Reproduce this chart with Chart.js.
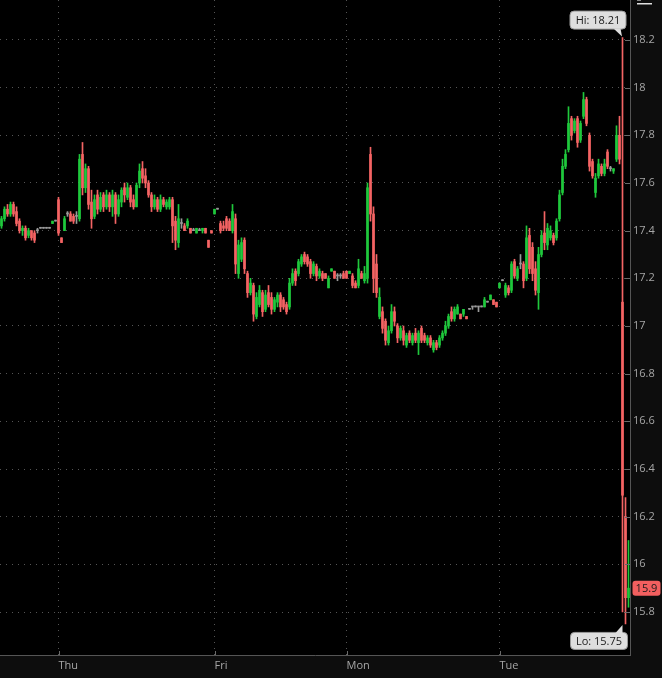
<!DOCTYPE html>
<html>
<head>
<meta charset="utf-8">
<script src="https://cdn.jsdelivr.net/npm/chart.js@4.4.1/dist/chart.umd.min.js"></script>
<style>
html,body{margin:0;padding:0;background:#0d0d0d;overflow:hidden;}
canvas{display:block;}
</style>
</head>
<body>
<canvas id="c" width="662" height="678"></canvas>
<script>
// ---- Data ----
const opens = [17.42,17.45,17.49,17.47,17.51,17.48,17.44,17.40,17.41,17.38,
17.40,17.39,17.40,17.41,17.41,17.41,17.41,17.43,17.44,17.53,
17.37,17.40,17.47,17.47,17.46,17.46,17.45,17.72,17.58,17.66,
17.52,17.46,17.55,17.49,17.55,17.50,17.55,17.50,17.55,17.47,
17.52,17.58,17.54,17.58,17.53,17.50,17.60,17.66,17.63,17.60,
17.55,17.50,17.53,17.49,17.53,17.50,17.50,17.53,17.44,17.35,
17.43,17.42,17.42,17.41,17.40,17.39,17.40,17.40,17.41,17.36,
17.40,17.47,17.49,17.43,17.42,17.45,17.44,17.40,17.45,17.22,
17.28,17.36,17.22,17.14,17.17,17.04,17.09,17.14,17.07,17.14,
17.12,17.07,17.10,17.13,17.11,17.09,17.08,17.18,17.23,17.22,
17.26,17.30,17.29,17.27,17.22,17.25,17.21,17.22,17.22,17.16,
17.23,17.23,17.21,17.21,17.22,17.23,17.22,17.21,17.18,17.17,
17.22,17.19,17.20,17.72,17.47,17.26,17.04,17.06,17.02,16.93,
16.98,17.06,17.00,16.95,16.98,16.92,16.97,16.93,16.97,16.93,
16.99,16.96,16.93,16.95,16.90,16.93,16.92,16.95,16.97,17.00,
17.06,17.03,17.05,17.05,17.05,17.04,17.07,17.08,17.08,17.08,
17.08,17.08,17.10,17.11,17.11,17.10,17.16,17.19,17.13,17.16,
17.15,17.27,17.20,17.26,17.26,17.20,17.38,17.33,17.24,17.14,
17.30,17.39,17.34,17.37,17.38,17.37,17.45,17.56,17.67,17.74,
17.87,17.82,17.87,17.78,17.88,17.95,17.80,17.69,17.56,17.63,
17.67,17.64,17.73,17.66,17.65,17.70,17.80,17.10,16.20,15.86];
const highs = [17.46,17.50,17.51,17.52,17.52,17.50,17.45,17.42,17.42,17.41,
17.40,17.40,17.41,17.41,17.41,17.41,17.41,17.44,17.44,17.54,
17.37,17.46,17.48,17.48,17.47,17.48,17.72,17.77,17.68,17.67,
17.57,17.55,17.57,17.56,17.56,17.57,17.56,17.57,17.56,17.55,
17.58,17.60,17.60,17.59,17.55,17.60,17.68,17.69,17.66,17.61,
17.56,17.55,17.54,17.55,17.54,17.53,17.54,17.54,17.46,17.51,
17.45,17.43,17.45,17.41,17.41,17.41,17.41,17.41,17.41,17.36,
17.40,17.49,17.49,17.44,17.44,17.46,17.45,17.51,17.47,17.36,
17.37,17.37,17.23,17.20,17.18,17.14,17.17,17.15,17.15,17.17,
17.14,17.12,17.14,17.14,17.12,17.10,17.20,17.24,17.24,17.28,
17.30,17.31,17.30,17.28,17.27,17.26,17.24,17.23,17.22,17.21,
17.24,17.23,17.22,17.22,17.23,17.23,17.23,17.22,17.19,17.28,
17.23,17.25,17.60,17.75,17.50,17.30,17.16,17.08,17.03,17.00,
17.09,17.08,17.01,17.00,17.00,16.97,16.98,16.97,16.99,16.98,
17.00,16.97,16.96,16.96,16.94,16.94,16.96,16.98,17.02,17.05,
17.08,17.08,17.09,17.05,17.07,17.04,17.07,17.08,17.08,17.08,
17.08,17.12,17.10,17.13,17.11,17.10,17.18,17.19,17.18,17.17,
17.27,17.28,17.25,17.30,17.27,17.42,17.41,17.35,17.27,17.33,
17.40,17.48,17.43,17.42,17.39,17.45,17.57,17.70,17.74,17.92,
17.88,17.87,17.88,17.86,17.98,17.96,17.81,17.70,17.64,17.70,
17.68,17.70,17.74,17.67,17.66,17.84,17.88,18.21,16.28,16.10];
const lows = [17.41,17.44,17.46,17.46,17.46,17.42,17.39,17.38,17.36,17.37,
17.36,17.35,17.39,17.41,17.41,17.41,17.41,17.43,17.44,17.38,
17.35,17.40,17.46,17.44,17.43,17.43,17.44,17.55,17.56,17.49,
17.41,17.45,17.47,17.48,17.48,17.49,17.48,17.46,17.43,17.46,
17.50,17.52,17.53,17.50,17.49,17.50,17.58,17.60,17.58,17.54,
17.48,17.49,17.48,17.48,17.50,17.49,17.49,17.35,17.32,17.33,
17.41,17.40,17.41,17.39,17.40,17.39,17.40,17.39,17.39,17.33,
17.39,17.47,17.49,17.39,17.40,17.40,17.40,17.39,17.22,17.20,
17.27,17.22,17.12,17.13,17.02,17.03,17.08,17.04,17.06,17.08,
17.05,17.06,17.08,17.06,17.07,17.05,17.07,17.17,17.17,17.21,
17.25,17.26,17.25,17.20,17.21,17.19,17.20,17.19,17.20,17.16,
17.23,17.20,17.19,17.20,17.20,17.20,17.22,17.16,17.16,17.16,
17.20,17.18,17.18,17.44,17.14,17.12,17.03,16.97,16.92,16.92,
16.97,17.00,16.93,16.94,16.92,16.91,16.93,16.92,16.93,16.88,
16.93,16.93,16.92,16.91,16.89,16.90,16.91,16.94,16.96,16.99,
17.02,17.02,17.05,17.03,17.04,17.03,17.07,17.07,17.08,17.06,
17.08,17.08,17.10,17.11,17.09,17.08,17.16,17.19,17.12,17.13,
17.14,17.20,17.19,17.24,17.16,17.19,17.22,17.19,17.13,17.07,
17.29,17.32,17.32,17.36,17.34,17.36,17.44,17.55,17.66,17.73,
17.78,17.81,17.75,17.77,17.87,17.84,17.65,17.62,17.54,17.62,
17.63,17.63,17.66,17.65,17.64,17.69,17.68,15.80,15.75,15.82];
const closes = [17.45,17.49,17.47,17.51,17.47,17.43,17.40,17.41,17.37,17.40,
17.37,17.36,17.40,17.41,17.41,17.41,17.41,17.44,17.44,17.39,
17.35,17.45,17.47,17.44,17.44,17.46,17.70,17.58,17.66,17.51,
17.45,17.53,17.49,17.54,17.50,17.55,17.50,17.55,17.47,17.53,
17.57,17.55,17.58,17.52,17.50,17.59,17.65,17.62,17.60,17.55,
17.50,17.53,17.49,17.53,17.51,17.52,17.53,17.42,17.36,17.45,
17.43,17.40,17.44,17.39,17.40,17.41,17.40,17.41,17.39,17.33,
17.39,17.49,17.49,17.40,17.41,17.41,17.40,17.48,17.26,17.34,
17.35,17.24,17.14,17.18,17.05,17.12,17.15,17.06,17.13,17.09,
17.07,17.11,17.13,17.08,17.08,17.06,17.18,17.22,17.19,17.27,
17.29,17.27,17.26,17.22,17.26,17.21,17.23,17.20,17.20,17.20,
17.24,17.20,17.21,17.21,17.20,17.20,17.23,17.17,17.16,17.24,
17.20,17.22,17.58,17.47,17.20,17.14,17.12,16.99,16.94,16.98,
17.06,17.02,16.95,16.99,16.94,16.96,16.94,16.96,16.94,16.97,
16.94,16.94,16.95,16.92,16.93,16.91,16.95,16.97,17.00,17.04,
17.03,17.07,17.08,17.03,17.07,17.03,17.07,17.08,17.08,17.08,
17.08,17.11,17.10,17.13,17.09,17.08,17.18,17.19,17.17,17.14,
17.26,17.21,17.24,17.26,17.19,17.37,17.24,17.22,17.15,17.30,
17.38,17.35,17.41,17.40,17.35,17.44,17.55,17.67,17.72,17.85,
17.80,17.86,17.77,17.85,17.95,17.85,17.67,17.63,17.62,17.68,
17.64,17.68,17.67,17.66,17.66,17.80,17.70,16.29,15.86,15.90];
const dayIndex = [19, 71, 115, 166];
const dayNames = ['Thu', 'Fri', 'Mon', 'Tue'];
const yTicks = [15.8, 16, 16.2, 16.4, 16.6, 16.8, 17, 17.2, 17.4, 17.6, 17.8, 18, 18.2];

// ---- Derived structures ----
const xLabels = opens.map(() => '');
dayIndex.forEach((d, k) => { xLabels[d] = dayNames[k]; });
const UP = '#1fc83c', DOWN = '#f46464', FLAT = '#9a9a9a';
const colors = opens.map((o, i) => closes[i] > o ? UP : (closes[i] < o ? DOWN : FLAT));
const bodies = opens.map((o, i) => [o, closes[i]]);
const wicks = lows.map((l, i) => [l, highs[i]]);
const FONT = '"Open Sans", "Liberation Sans", sans-serif';

const yMin = 15.6196, yMax = 18.3678;

const overlay = {
  id: 'overlay',
  beforeDraw(chart) {
    const {ctx, chartArea: a} = chart;
    ctx.save();
    ctx.fillStyle = '#0d0d0d';
    ctx.fillRect(0, 0, chart.width, chart.height);
    ctx.fillStyle = '#000000';
    ctx.fillRect(a.left, a.top, a.right - a.left, a.bottom - a.top);
    ctx.restore();
  },
  afterDraw(chart) {
    const {ctx, chartArea: a, scales: {x, y}} = chart;
    ctx.save();
    // small inner tick marks
    ctx.strokeStyle = '#6a6a6a';
    ctx.lineWidth = 1;
    yTicks.forEach(v => {
      const py = Math.round(y.getPixelForValue(v)) + 0.5;
      ctx.beginPath(); ctx.moveTo(a.right - 5, py); ctx.lineTo(a.right, py); ctx.stroke();
    });
    dayIndex.forEach(d => {
      const px = Math.round(x.getPixelForValue(d)) + 0.5;
      ctx.beginPath(); ctx.moveTo(px, a.bottom - 4); ctx.lineTo(px, a.bottom); ctx.stroke();
    });
    // top-right icon
    ctx.fillStyle = '#e0e0e0';
    ctx.fillRect(637, 3, 15, 1.5);
    ctx.fillStyle = '#888';
    ctx.fillRect(637, 0, 4, 1);

    ctx.font = '11px ' + FONT;
    ctx.textBaseline = 'middle';
    ctx.textAlign = 'center';
    // Hi callout
    let hiIdx = 0; highs.forEach((h, i) => { if (h > highs[hiIdx]) hiIdx = i; });
    let loIdx = 0; lows.forEach((l, i) => { if (l < lows[loIdx]) loIdx = i; });
    const hx = x.getPixelForValue(hiIdx), hy = y.getPixelForValue(highs[hiIdx]);
    const hR = hx + 3.5, hW = 56, hB = hy - 8.5, hT = hB - 18;
    ctx.fillStyle = '#dedede'; ctx.strokeStyle = '#9a9a9a';
    ctx.beginPath();
    ctx.roundRect(hR - hW, hT, hW, hB - hT, 4);
    ctx.fill(); ctx.stroke();
    ctx.beginPath();
    ctx.moveTo(hx - 9, hB - 0.5); ctx.lineTo(hx - 2, hB - 0.5); ctx.lineTo(hx - 0.5, hy - 1); ctx.closePath();
    ctx.fill();
    ctx.fillStyle = '#1a1a1a';
    ctx.fillText('Hi: ' + highs[hiIdx].toFixed(2), hR - hW / 2, (hT + hB) / 2 + 0.5);
    // Lo callout
    const lx = x.getPixelForValue(loIdx), ly = y.getPixelForValue(lows[loIdx]);
    const lR = lx + 2, lW = 57, lT = ly + 8.5, lB = lT + 17;
    ctx.fillStyle = '#dedede'; ctx.strokeStyle = '#9a9a9a';
    ctx.beginPath();
    ctx.roundRect(lR - lW, lT, lW, lB - lT, 4);
    ctx.fill(); ctx.stroke();
    ctx.beginPath();
    ctx.moveTo(lx - 10, lT + 0.5); ctx.lineTo(lx - 3, lT + 0.5); ctx.lineTo(lx - 3, ly + 1); ctx.closePath();
    ctx.fill();
    ctx.fillStyle = '#1a1a1a';
    ctx.fillText('Lo: ' + lows[loIdx].toFixed(2), lR - lW / 2, (lT + lB) / 2 + 0.5);
    // last price bubble
    const last = closes[closes.length - 1];
    const py = y.getPixelForValue(last);
    ctx.fillStyle = '#f25f5f';
    ctx.beginPath();
    ctx.roundRect(a.right + 2.5, py - 7.5, 28, 15, 3);
    ctx.fill();
    ctx.fillStyle = '#1a1a1a';
    ctx.fillText(String(+last.toFixed(2)), a.right + 16.5, py + 0.5);
    ctx.restore();
  }
};

new Chart(document.getElementById('c'), {
  type: 'bar',
  data: {
    labels: xLabels,
    datasets: [
      { data: bodies, backgroundColor: colors, barThickness: 2, minBarLength: 1, grouped: false, borderWidth: 0 },
      { data: wicks, backgroundColor: colors, barThickness: 1, minBarLength: 1, grouped: false, borderWidth: 0 }
    ]
  },
  options: {
    responsive: false,
    animation: false,
    devicePixelRatio: 1,
    layout: { padding: 0 },
    plugins: { legend: { display: false }, tooltip: { enabled: false } },
    scales: {
      x: {
        type: 'category',
        offset: true,
        grid: { display: true, offset: false, color: '#555555', lineWidth: 1, drawTicks: false },
        border: { display: true, color: '#555555', dash: [1, 5] },
        ticks: { autoSkip: false, maxRotation: 0, minRotation: 0, align: 'start', color: '#a6a6a6',
                 font: { family: FONT, size: 11 }, padding: 4 },
        afterBuildTicks: s => { s.ticks = s.ticks.filter(t => xLabels[t.value]); },
        afterFit: s => { s.height = 23; s.paddingLeft = 0; s.paddingRight = 0; }
      },
      y: {
        position: 'right',
        min: yMin,
        max: yMax,
        afterBuildTicks: s => { s.ticks = yTicks.map(v => ({ value: v })); },
        ticks: { callback: v => String(+Number(v).toFixed(1)), color: '#a6a6a6',
                 font: { family: FONT, size: 11 }, padding: 3 },
        grid: { color: '#555555', lineWidth: 1, drawTicks: false },
        border: { display: true, color: '#555555', dash: [1, 5] },
        afterFit: s => { s.width = 32; s.paddingTop = 0; s.paddingBottom = 0; }
      }
    }
  },
  plugins: [overlay]
});
</script>
</body>
</html>
